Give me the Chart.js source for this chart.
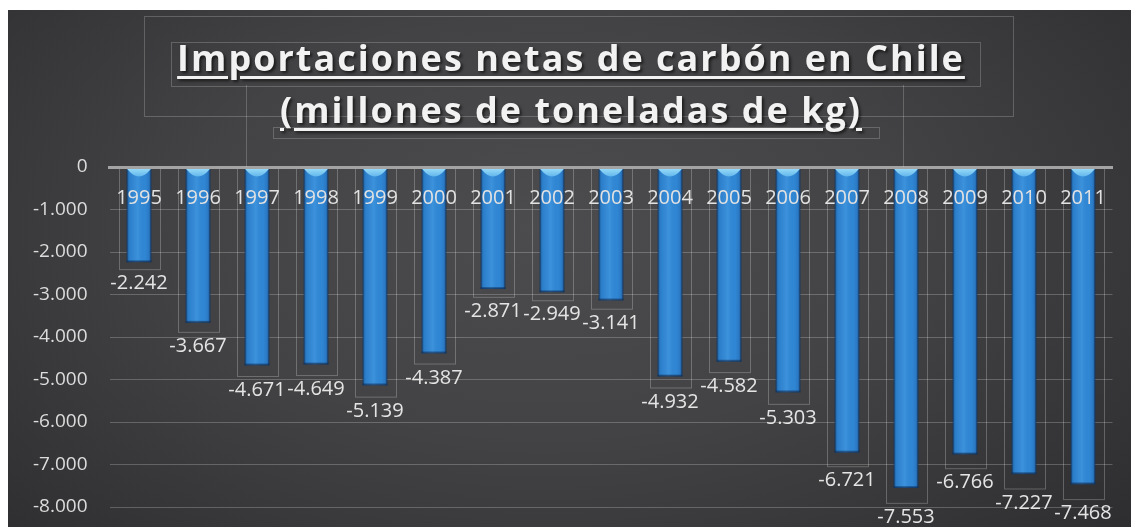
<!DOCTYPE html>
<html>
<head>
<meta charset="utf-8">
<script src="https://cdn.jsdelivr.net/npm/chart.js@4.4.1/dist/chart.umd.min.js"></script>
<style>
  html, body { margin: 0; padding: 0; background: #fff; }
  body { width: 1131px; height: 527px; position: relative; overflow: hidden; }
  #fondo {
    position: absolute; left: 8px; top: 10px; width: 1123px; height: 517px;
    background: radial-gradient(ellipse 70% 90% at 48% 42%, #4c4c4e 0%, #434345 45%, #353537 80%, #2d2d2f 100%);
  }
  #titulo {
    position: absolute; left: 0; top: 32px; width: 1142px; text-align: center;
    font-family: "Open Sans", sans-serif; font-weight: bold; font-size: 36px; line-height: 52px;
    letter-spacing: 2px; color: #f2f2f2;
    text-decoration: underline; text-decoration-thickness: 3px; text-underline-offset: 5px;
    text-shadow: 2px 2px 3px rgba(0,0,0,0.6);
  }
  .caja { position: absolute; border: 1px solid rgba(255,255,255,0.2); }
  .linea { position: absolute; width: 1px; background: rgba(255,255,255,0.2); }
</style>
</head>
<body>
<div id="fondo"><canvas id="grafo"></canvas></div>
<div class="caja" style="left:144px;top:16px;width:868px;height:99px"></div>
<div class="caja" style="left:171px;top:42px;width:808px;height:43px"></div>
<div class="caja" style="left:273px;top:127px;width:605px;height:10px"></div>
<div class="linea" style="left:246px;top:85px;height:82px"></div>
<div class="linea" style="left:903px;top:85px;height:82px"></div>
<div id="titulo">Importaciones netas de carbón en Chile<br>(millones de toneladas de kg)</div>
<script>
// años y valores (millones de toneladas de kg)
const anios = ['1995', '1996', '1997', '1998', '1999', '2000', '2001', '2002', '2003',
  '2004', '2005', '2006', '2007', '2008', '2009', '2010', '2011'];
const importaciones = [-2242, -3667, -4671, -4649, -5139, -4387, -2871, -2949, -3141,
  -4932, -4582, -5303, -6721, -7553, -6766, -7227, -7468];
const ejeMin = -8000;
const ejeMax = 0;
const ejePaso = 1000;

// formato con punto de miles: -2242 -> "-2.242"
function formato(v) {
  const s = String(Math.abs(Math.round(v))).replace(/\B(?=(\d{3})+(?!\d))/g, '.');
  return (v < 0 ? '-' : '') + s;
}

// posición vertical de la etiqueta de valor, un poco más abajo en barras largas
function yEtiqueta(bar, v) {
  return bar.y + 18 + 1.5 * Math.abs(v) / 1000;
}

// cajas finas de las etiquetas (detrás de las barras)
const cajasEtiquetas = {
  id: 'cajasEtiquetas',
  beforeDatasetsDraw(chart) {
    const ctx = chart.ctx;
    const meta = chart.getDatasetMeta(0);
    const y0 = chart.scales.y.getPixelForValue(0);
    ctx.save();
    ctx.strokeStyle = 'rgba(255,255,255,0.24)';
    ctx.lineWidth = 1;
    meta.data.forEach((bar, i) => {
      const yl = yEtiqueta(bar, importaciones[i]);
      ctx.strokeRect(Math.round(bar.x - 20.5) + 0.5, y0, 41, yl - 14 - y0);
    });
    ctx.restore();
  }
};

// brillo de las barras y etiquetas de valor
const estiloBarras = {
  id: 'estiloBarras',
  afterDatasetsDraw(chart) {
    const ctx = chart.ctx;
    const meta = chart.getDatasetMeta(0);
    ctx.save();
    meta.data.forEach((bar, i) => {
      const l = bar.x - bar.width / 2;
      const r = bar.x + bar.width / 2;
      const top = Math.min(bar.y, bar.base);
      const bottom = Math.max(bar.y, bar.base);
      // degradado horizontal
      const g = ctx.createLinearGradient(l, 0, r, 0);
      g.addColorStop(0, 'rgba(10,40,80,0.6)');
      g.addColorStop(0.12, 'rgba(20,70,130,0.15)');
      g.addColorStop(0.45, 'rgba(130,200,255,0.16)');
      g.addColorStop(0.75, 'rgba(20,70,130,0.02)');
      g.addColorStop(0.9, 'rgba(20,60,120,0.2)');
      g.addColorStop(1, 'rgba(10,40,80,0.65)');
      ctx.fillStyle = g;
      ctx.fillRect(l, top, r - l, bottom - top);
      // borde inferior oscuro
      ctx.fillStyle = 'rgba(10,40,80,0.45)';
      ctx.fillRect(l, bottom - 2, r - l, 2);
      // tapa clara arriba
      const gc = ctx.createLinearGradient(0, top, 0, top + 12);
      gc.addColorStop(0, '#9fe0fb');
      gc.addColorStop(1, '#4fa9e6');
      ctx.fillStyle = gc;
      ctx.beginPath();
      ctx.moveTo(l + 1, top);
      ctx.lineTo(r - 1, top);
      ctx.lineTo(r - 1, top + 2);
      ctx.quadraticCurveTo(bar.x, top + 16, l + 1, top + 2);
      ctx.closePath();
      ctx.fill();
    });
    // etiquetas de datos
    ctx.fillStyle = '#e4e4e4';
    ctx.font = '20px "Open Sans"';
    ctx.textAlign = 'center';
    ctx.textBaseline = 'middle';
    meta.data.forEach((bar, i) => {
      const v = importaciones[i];
      ctx.fillText(formato(v), bar.x, yEtiqueta(bar, v));
    });
    ctx.restore();
  }
};

const $grafo = document.querySelector('#grafo');
const grafica = new Chart($grafo, {
  type: 'bar',
  data: {
    labels: anios,
    datasets: [{
      label: 'Importaciones netas',
      data: importaciones,
      backgroundColor: '#3088d6',
      borderColor: '#1d5690',
      borderWidth: 1,
      barPercentage: 0.42,
      categoryPercentage: 1
    }]
  },
  plugins: [cajasEtiquetas, estiloBarras],
  options: {
    responsive: true,
    maintainAspectRatio: false,
    animation: false,
    layout: { padding: { left: 0, right: 18.5, top: 157, bottom: 20 } },
    plugins: {
      legend: { display: false },
      title: { display: false },
      tooltip: { enabled: false }
    },
    scales: {
      x: {
        position: { y: 0 },
        grid: { display: false, drawTicks: false },
        border: { display: true, color: '#a3a3a3', width: 3, z: 1 },
        ticks: {
          z: 1,
          color: '#e2e2e2',
          font: { family: 'Open Sans', size: 20 },
          padding: 19,
          maxRotation: 0,
          autoSkip: false
        }
      },
      y: {
        min: ejeMin,
        max: ejeMax,
        afterFit(scale) {
          scale.width = 101.5;
          scale.paddingTop = 0;
          scale.paddingBottom = 0;
        },
        grid: { color: 'rgba(255,255,255,0.22)', lineWidth: 1, drawTicks: false },
        border: { display: false },
        ticks: {
          stepSize: ejePaso,
          color: '#dcdcdc',
          font: { family: 'Open Sans', size: 19 },
          padding: 22,
          callback: (v) => formato(v)
        }
      }
    }
  }
});
</script>
</body>
</html>
